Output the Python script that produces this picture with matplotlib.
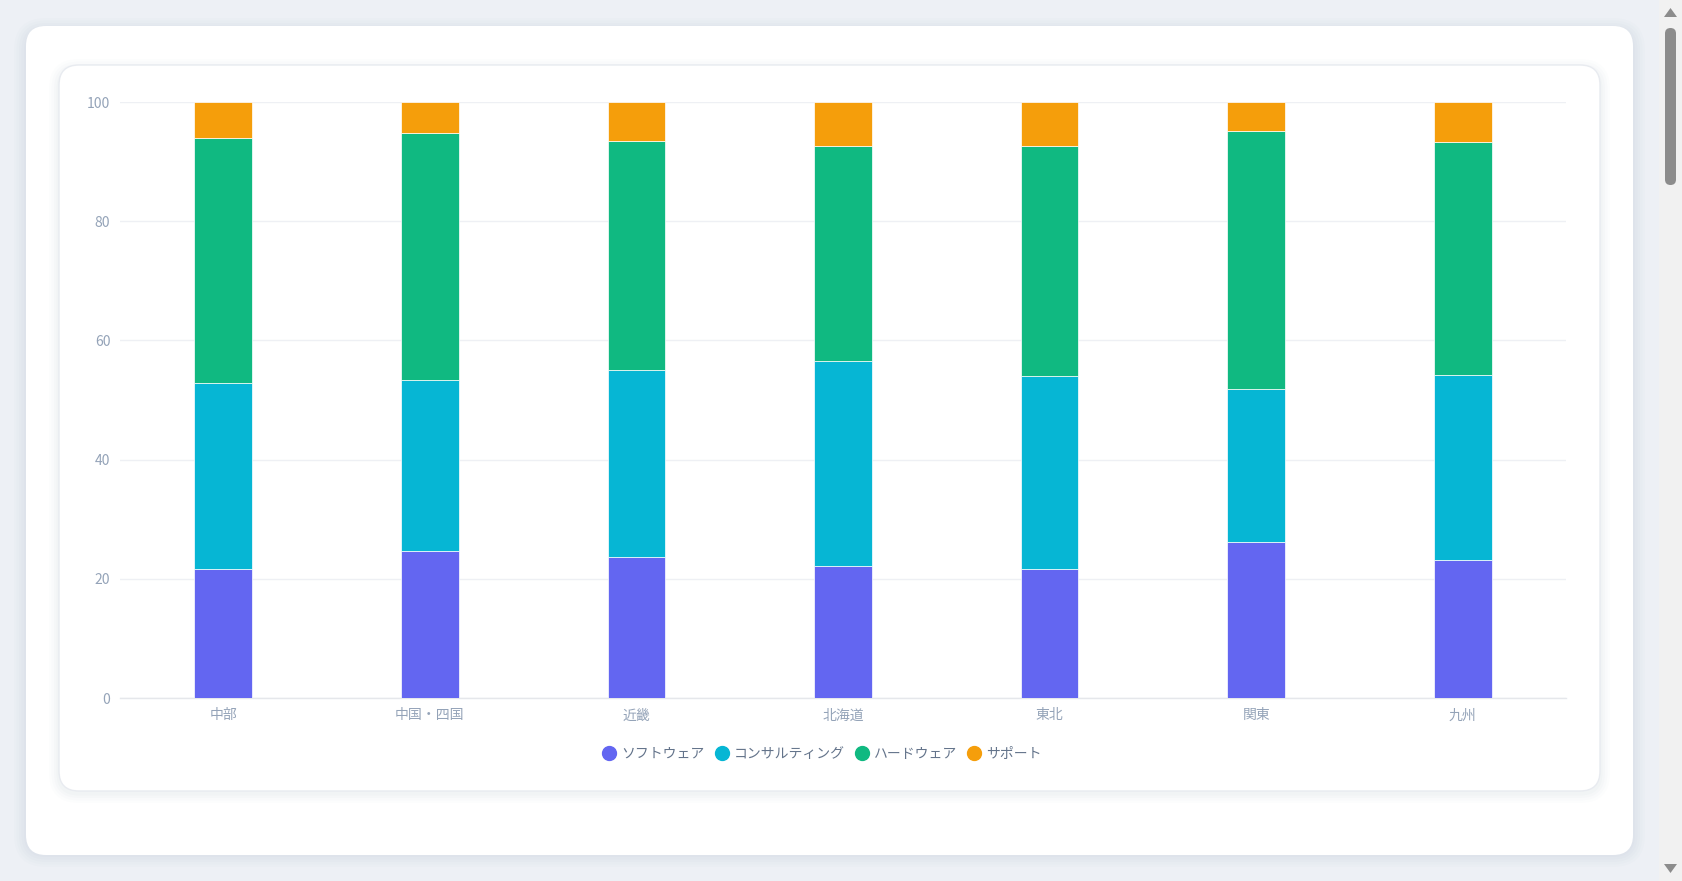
import matplotlib
matplotlib.use("Agg")
import matplotlib.pyplot as plt
from matplotlib.patches import FancyBboxPatch, Rectangle, Polygon
from matplotlib.lines import Line2D
import numpy as np

plt.rcParams['font.family'] = ['Noto Sans CJK JP', 'DejaVu Sans']

categories = ["中部", "中国・四国", "近畿", "北海道", "東北", "関東", "九州"]
series_names = ["ソフトウェア", "コンサルティング", "ハードウェア", "サポート"]
software = [21.6, 24.7, 23.6, 22.2, 21.6, 26.1, 23.1]
consulting = [31.2, 28.6, 31.5, 34.4, 32.5, 25.8, 31.1]
hardware = [41.1, 41.5, 38.4, 36.0, 38.5, 43.2, 39.1]
support = [6.1, 5.2, 6.5, 7.4, 7.4, 4.9, 6.7]
yticks = [0, 20, 40, 60, 80, 100]

colors = ["#6366f1", "#06b6d4", "#10b981", "#f59e0b"]

W, H = 1682, 881
fig = plt.figure(figsize=(W / 100, H / 100), dpi=100)
fig.patch.set_facecolor("#edf0f5")

# background layer in pixel coordinates
bg = fig.add_axes([0, 0, 1, 1], zorder=0)
bg.set_xlim(0, W)
bg.set_ylim(H, 0)
bg.axis("off")

# outer card shadow
for i, a in enumerate([0.025, 0.025, 0.03, 0.03, 0.035]):
    g = 12 - i * 2.5
    bg.add_patch(FancyBboxPatch((26 - g, 30 - g), 1607 + 2 * g, 825 + 2 * g,
                                boxstyle="round,pad=0,rounding_size=%f" % (20 + g),
                                fc="#94a3b8", ec="none", alpha=a))
bg.add_patch(FancyBboxPatch((26, 26), 1607, 829,
                            boxstyle="round,pad=0,rounding_size=20",
                            fc="white", ec="none"))
# inner card shadow
for i, a in enumerate([0.02, 0.025, 0.03, 0.035]):
    g = 10 - i * 2.5
    bg.add_patch(FancyBboxPatch((59 - g, 69 - g), 1541 + 2 * g, 724 + 2 * g,
                                boxstyle="round,pad=0,rounding_size=%f" % (20 + g),
                                fc="#94a3b8", ec="none", alpha=a))
bg.add_patch(FancyBboxPatch((59, 65), 1541, 726,
                            boxstyle="round,pad=0,rounding_size=20",
                            fc="white", ec="#e8ebf0", lw=1.0))

# scrollbar
bg.add_patch(Rectangle((1659, 0), 23, H, fc="#f1f1f1", ec="none"))
bg.add_patch(FancyBboxPatch((1665, 28), 11, 157,
                            boxstyle="round,pad=0,rounding_size=5.5",
                            fc="#8c8c8c", ec="none"))
bg.add_patch(Polygon([[1664, 17], [1677, 17], [1670.5, 8]], closed=True, fc="#8c8c8c", ec="none"))
bg.add_patch(Polygon([[1664, 864], [1677, 864], [1670.5, 873]], closed=True, fc="#8c8c8c", ec="none"))

# main chart
ax = fig.add_axes([120 / W, 1 - 698 / H, (1566 - 120) / W, (698 - 102) / H], zorder=2)
ax.set_facecolor("none")
x = np.arange(len(categories))
bottom = np.zeros(len(categories))
data = [software, consulting, hardware, support]
for vals, name, c in zip(data, series_names, colors):
    ax.bar(x, vals, width=0.28, bottom=bottom, color=c, edgecolor="#ffffff",
           linewidth=0.5, label=name, zorder=3)
    bottom = bottom + np.array(vals)

ax.set_xlim(-0.5, len(categories) - 0.5)
ax.set_ylim(0, 100)
ax.set_yticks(yticks)
ax.set_yticklabels([str(t) for t in yticks])
ax.set_xticks(x)
ax.set_xticklabels(categories)
ax.grid(axis="y", color="#eef0f4", linewidth=1.0, zorder=0)
ax.set_axisbelow(True)
for s in ["top", "right", "left"]:
    ax.spines[s].set_visible(False)
ax.spines["bottom"].set_color("#e5e7eb")
ax.spines["bottom"].set_linewidth(1.0)
ax.tick_params(axis="both", length=0, labelsize=10, colors="#94a3b8")
ax.tick_params(axis="y", pad=7)
ax.tick_params(axis="x", pad=7.5)

handles = [Line2D([0], [0], marker="o", color="none", markerfacecolor=c,
                  markeredgecolor=c, markersize=10) for c in colors]
leg = fig.legend(handles, series_names, loc="center", bbox_to_anchor=(822 / W, 1 - 754 / H),
                 ncol=4, frameon=False, fontsize=10, handletextpad=0.35,
                 columnspacing=0.75, handlelength=1.0)
for t in leg.get_texts():
    t.set_color("#64748b")

fig.savefig("out.png", dpi=100, facecolor=fig.get_facecolor())
